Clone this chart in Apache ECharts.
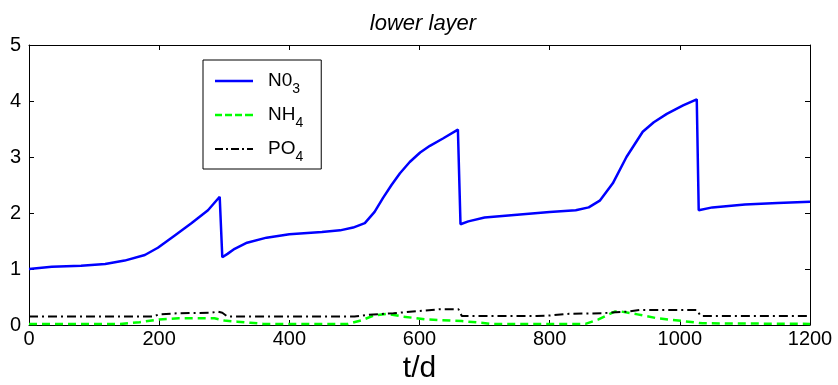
<!DOCTYPE html>
<html>
<head>
<meta charset="utf-8">
<script src="https://cdn.jsdelivr.net/npm/echarts@6/dist/echarts.min.js"></script>
<style>
  html, body { margin: 0; padding: 0; background: #fff; }
  #chart { width: 838px; height: 385px; }
</style>
</head>
<body>
<div id="chart"></div>
<script>
// values, [t (days), concentration]
var no3 = [
  [0, 1.0], [35, 1.04], [80, 1.06], [117, 1.09], [147, 1.15], [178, 1.25], [198, 1.38],
  [224, 1.6], [250, 1.82], [275, 2.05], [293, 2.29], [297, 1.21], [305, 1.27], [316, 1.36],
  [335, 1.47], [365, 1.56], [400, 1.62], [450, 1.66], [478, 1.69], [498, 1.74], [516, 1.82],
  [531, 2.02], [544, 2.27], [557, 2.5], [570, 2.71], [585, 2.91], [601, 3.08], [616, 3.2],
  [636, 3.33], [659, 3.49], [663, 1.8], [675, 1.85], [700, 1.92], [750, 1.97], [800, 2.02],
  [840, 2.05], [860, 2.1], [877, 2.22], [897, 2.53], [918, 3.0], [943, 3.45], [960, 3.62],
  [980, 3.77], [1005, 3.92], [1026, 4.03], [1029, 2.05], [1050, 2.1], [1100, 2.15],
  [1150, 2.18], [1200, 2.2]
];
var nh4 = [
  [0, 0.02], [140, 0.02], [170, 0.05], [200, 0.1], [230, 0.12], [285, 0.12], [300, 0.08],
  [320, 0.06], [340, 0.04], [360, 0.02], [490, 0.02], [510, 0.08], [530, 0.17], [550, 0.2],
  [575, 0.15], [610, 0.1], [665, 0.07], [695, 0.04], [710, 0.02], [855, 0.02], [875, 0.1],
  [900, 0.24], [910, 0.24], [935, 0.19], [965, 0.12], [1005, 0.07], [1035, 0.03], [1200, 0.02]
];
var po4 = [
  [0, 0.15], [190, 0.15], [200, 0.19], [230, 0.21], [280, 0.22], [290, 0.24], [297, 0.22],
  [305, 0.15], [500, 0.15], [520, 0.18], [560, 0.21], [600, 0.25], [630, 0.28], [660, 0.28],
  [665, 0.16], [780, 0.16], [800, 0.17], [830, 0.2], [880, 0.21], [920, 0.24], [940, 0.27],
  [1026, 0.27], [1032, 0.16], [1200, 0.16]
];
var seriesNames = ["N03", "NH4", "PO4"];

var font = "Liberation Sans, Arial, sans-serif";

// legend samples drawn as plain shapes (solid, dashed, dash-dot)
var legendIcons = [
  "path://M0,0H38V2.5H0Z",
  "path://M0,0H7V2.5H0Z M10,0H17V2.5H10Z M20,0H27V2.5H20Z M30,0H38V2.5H30Z",
  "path://M0,0H8V2H0Z M11,0H13V2H11Z M16,0H24V2H16Z M27,0H29V2H27Z M32,0H38V2H32Z",
];

var chart = echarts.init(document.getElementById("chart"));

function frameAxis(pos) {
  return {
    position: pos,
    type: "value",
    axisLine: { show: true, onZero: false, lineStyle: { color: "#000", width: 1 } },
    axisTick: { show: true, inside: true, length: 5, lineStyle: { color: "#000" } },
    axisLabel: { show: false },
    splitLine: { show: false },
  };
}

chart.setOption({
  animation: false,
  title: {
    text: "lower layer",
    left: 418,
    textAlign: "center",
    top: 8,
    textStyle: {
      fontFamily: font,
      fontStyle: "italic",
      fontWeight: "normal",
      fontSize: 22,
      color: "#000",
    },
  },
  grid: {
    left: 29,
    right: 28,
    top: 45,
    bottom: 60,
    outerBoundsMode: "none",
  },
  legend: {
    orient: "vertical",
    left: 203,
    top: 60,
    padding: [6, 18, 5, 12],
    itemGap: 4,
    itemWidth: 38,
    itemHeight: 14,
    borderColor: "#000",
    borderWidth: 1,
    backgroundColor: "#fff",
    data: seriesNames.map(function (n, i) {
      return { name: n, icon: legendIcons[i] };
    }),
    formatter: function (name) {
      // last character is a subscript
      return "{b|" + name.slice(0, -1) + "}{s|" + name.slice(-1) + "}";
    },
    textStyle: {
      fontFamily: font,
      color: "#000",
      rich: {
        b: { fontSize: 19, fontFamily: font, lineHeight: 22, padding: [0, 0, 0, 10], color: "#000" },
        s: { fontSize: 14, fontFamily: font, lineHeight: 6, padding: [16, 0, 0, 0], color: "#000" },
      },
    },
  },
  xAxis: [
    {
      type: "value",
      min: 0,
      max: 1200,
      interval: 200,
      name: "t/d",
      nameLocation: "middle",
      nameGap: 24,
      nameTextStyle: { fontFamily: font, fontSize: 30, color: "#000" },
      axisLine: { show: true, onZero: false, lineStyle: { color: "#000", width: 1 } },
      axisTick: { show: true, inside: true, length: 5, lineStyle: { color: "#000" } },
      axisLabel: {
        fontFamily: font, fontSize: 20, color: "#000", margin: 4,
        formatter: function (v) { return String(v); },
      },
      splitLine: { show: false },
    },
    Object.assign(frameAxis("top"), { min: 0, max: 1200, interval: 200 }),
  ],
  yAxis: [
    {
      type: "value",
      min: 0,
      max: 5,
      interval: 1,
      axisLine: { show: true, onZero: false, lineStyle: { color: "#000", width: 1 } },
      axisTick: { show: true, inside: true, length: 5, lineStyle: { color: "#000" } },
      axisLabel: { fontFamily: font, fontSize: 20, color: "#000", margin: 8 },
      splitLine: { show: false },
    },
    Object.assign(frameAxis("right"), { min: 0, max: 5, interval: 1 }),
  ],
  series: [
    {
      name: seriesNames[0],
      type: "line",
      data: no3,
      symbol: "none",
      lineStyle: { color: "#0000ff", width: 2.5 },
      itemStyle: { color: "#0000ff" },
      z: 3,
    },
    {
      name: seriesNames[1],
      type: "line",
      data: nh4,
      symbol: "none",
      lineStyle: { color: "#00ff00", width: 2.5, type: [8, 5] },
      itemStyle: { color: "#00ff00" },
    },
    {
      name: seriesNames[2],
      type: "line",
      data: po4,
      symbol: "none",
      lineStyle: { color: "#000000", width: 2, type: [9, 4, 2, 4] },
      itemStyle: { color: "#000000" },
    },
  ],
});
</script>
</body>
</html>
